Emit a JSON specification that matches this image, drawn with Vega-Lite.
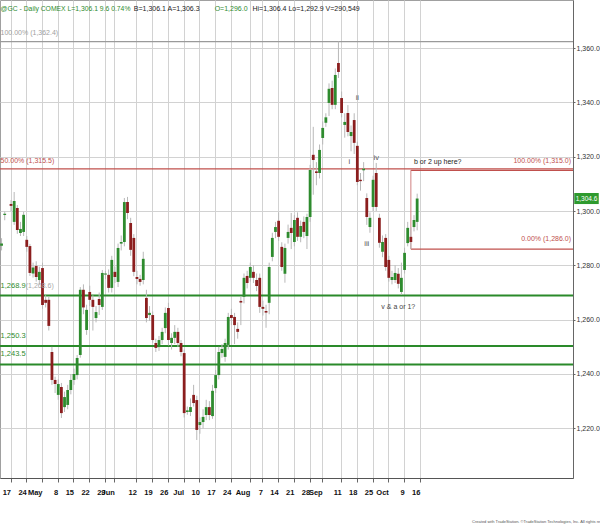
{
"$schema": "https://vega.github.io/schema/vega-lite/v6.json",
"width": 573, "height": 478,
"autosize": {"type": "none"},
"padding": {"left": 0, "top": 0, "right": 27, "bottom": 54},
"background": "white",
"config": {
  "font": "Liberation Sans, Arial, sans-serif",
  "view": {"stroke": "#a0a0a0", "strokeWidth": 1},
  "axis": {"domainColor": "#666666", "tickColor": "#666666", "gridColor": "#d2d2d2", "gridWidth": 1}
},
"title": {"text": "Created with TradeStation. ©TradeStation Technologies, Inc. All rights reserved.", "orient": "bottom", "anchor": "end", "fontSize": 4, "fontWeight": "normal", "color": "#555555", "offset": 24, "dx": 14},
"data": {"values": [
{"d":"2017-04-12","o":1287.2,"h":1290.0,"l":1285.5,"c":1288.0},
{"d":"2017-04-13","o":1298.5,"h":1299.8,"l":1296.6,"c":1299.0},
{"d":"2017-04-17","o":1302.6,"h":1304.0,"l":1300.0,"c":1301.9},
{"d":"2017-04-18","o":1296.0,"h":1307.0,"l":1294.9,"c":1303.7},
{"d":"2017-04-19","o":1301.1,"h":1302.2,"l":1291.6,"c":1293.0},
{"d":"2017-04-20","o":1291.9,"h":1296.0,"l":1290.8,"c":1293.4},
{"d":"2017-04-21","o":1292.3,"h":1299.7,"l":1290.8,"c":1298.6},
{"d":"2017-04-24","o":1289.4,"h":1290.8,"l":1285.0,"c":1286.8},
{"d":"2017-04-25","o":1287.1,"h":1287.9,"l":1276.1,"c":1277.2},
{"d":"2017-04-26","o":1277.0,"h":1281.0,"l":1275.5,"c":1279.2},
{"d":"2017-04-27","o":1279.8,"h":1281.5,"l":1274.0,"c":1275.7},
{"d":"2017-04-28","o":1274.6,"h":1279.5,"l":1273.0,"c":1277.6},
{"d":"2017-05-01","o":1279.0,"h":1281.0,"l":1264.0,"c":1265.4},
{"d":"2017-05-02","o":1267.3,"h":1269.0,"l":1264.5,"c":1266.2},
{"d":"2017-05-03","o":1267.3,"h":1268.5,"l":1256.0,"c":1257.7},
{"d":"2017-05-04","o":1248.1,"h":1250.0,"l":1236.0,"c":1237.8},
{"d":"2017-05-05","o":1237.8,"h":1239.0,"l":1233.0,"c":1236.3},
{"d":"2017-05-08","o":1232.3,"h":1238.0,"l":1230.5,"c":1236.3},
{"d":"2017-05-09","o":1235.2,"h":1236.7,"l":1223.8,"c":1225.6},
{"d":"2017-05-10","o":1227.8,"h":1233.5,"l":1226.0,"c":1231.5},
{"d":"2017-05-11","o":1228.6,"h":1236.0,"l":1227.0,"c":1234.1},
{"d":"2017-05-12","o":1234.1,"h":1240.0,"l":1232.5,"c":1237.8},
{"d":"2017-05-15","o":1237.8,"h":1242.0,"l":1236.0,"c":1240.0},
{"d":"2017-05-16","o":1239.6,"h":1247.0,"l":1238.0,"c":1245.9},
{"d":"2017-05-17","o":1247.0,"h":1272.0,"l":1246.0,"c":1271.0},
{"d":"2017-05-18","o":1271.0,"h":1273.0,"l":1262.0,"c":1264.5},
{"d":"2017-05-19","o":1256.2,"h":1265.5,"l":1254.4,"c":1263.6},
{"d":"2017-05-22","o":1270.2,"h":1272.5,"l":1265.0,"c":1267.3},
{"d":"2017-05-23","o":1267.3,"h":1269.0,"l":1256.0,"c":1264.7},
{"d":"2017-05-24","o":1260.6,"h":1265.0,"l":1259.0,"c":1262.8},
{"d":"2017-05-25","o":1267.6,"h":1270.0,"l":1261.7,"c":1265.4},
{"d":"2017-05-26","o":1264.7,"h":1278.3,"l":1263.6,"c":1277.2},
{"d":"2017-05-29","o":1276.6,"h":1278.0,"l":1275.0,"c":1277.0},
{"d":"2017-05-30","o":1276.5,"h":1278.5,"l":1270.0,"c":1271.7},
{"d":"2017-05-31","o":1271.7,"h":1283.5,"l":1270.0,"c":1282.0},
{"d":"2017-06-01","o":1277.6,"h":1279.5,"l":1273.5,"c":1275.7},
{"d":"2017-06-02","o":1273.9,"h":1288.0,"l":1272.0,"c":1286.4},
{"d":"2017-06-05","o":1288.0,"h":1291.0,"l":1285.5,"c":1288.6},
{"d":"2017-06-06","o":1288.6,"h":1304.8,"l":1287.0,"c":1303.3},
{"d":"2017-06-07","o":1303.3,"h":1305.2,"l":1297.0,"c":1299.3},
{"d":"2017-06-08","o":1295.6,"h":1297.5,"l":1283.5,"c":1285.7},
{"d":"2017-06-09","o":1290.1,"h":1291.5,"l":1276.0,"c":1277.6},
{"d":"2017-06-12","o":1275.7,"h":1278.0,"l":1273.0,"c":1275.0},
{"d":"2017-06-13","o":1275.0,"h":1276.5,"l":1272.5,"c":1273.9},
{"d":"2017-06-14","o":1274.6,"h":1285.0,"l":1273.0,"c":1282.4},
{"d":"2017-06-15","o":1268.0,"h":1271.0,"l":1259.0,"c":1260.6},
{"d":"2017-06-16","o":1261.7,"h":1265.0,"l":1259.5,"c":1262.5},
{"d":"2017-06-19","o":1261.7,"h":1263.0,"l":1251.5,"c":1252.5},
{"d":"2017-06-20","o":1251.4,"h":1253.0,"l":1248.1,"c":1249.6},
{"d":"2017-06-21","o":1249.9,"h":1254.0,"l":1248.5,"c":1252.5},
{"d":"2017-06-22","o":1252.5,"h":1257.0,"l":1251.0,"c":1255.5},
{"d":"2017-06-23","o":1256.9,"h":1264.5,"l":1255.0,"c":1262.5},
{"d":"2017-06-26","o":1264.3,"h":1266.2,"l":1250.5,"c":1252.5},
{"d":"2017-06-27","o":1251.4,"h":1255.0,"l":1249.0,"c":1253.3},
{"d":"2017-06-28","o":1253.3,"h":1258.0,"l":1251.0,"c":1255.5},
{"d":"2017-06-29","o":1255.5,"h":1257.0,"l":1250.0,"c":1251.4},
{"d":"2017-06-30","o":1251.4,"h":1252.5,"l":1246.5,"c":1248.1},
{"d":"2017-07-03","o":1247.7,"h":1249.0,"l":1224.0,"c":1225.6},
{"d":"2017-07-04","o":1226.0,"h":1228.0,"l":1225.0,"c":1226.6},
{"d":"2017-07-05","o":1226.0,"h":1231.0,"l":1224.5,"c":1227.8},
{"d":"2017-07-06","o":1232.3,"h":1236.0,"l":1228.0,"c":1229.3},
{"d":"2017-07-07","o":1230.4,"h":1232.0,"l":1215.7,"c":1219.4},
{"d":"2017-07-10","o":1221.2,"h":1224.0,"l":1218.0,"c":1222.3},
{"d":"2017-07-11","o":1222.3,"h":1227.0,"l":1220.0,"c":1224.2},
{"d":"2017-07-12","o":1224.9,"h":1230.5,"l":1223.0,"c":1227.8},
{"d":"2017-07-13","o":1227.8,"h":1230.0,"l":1223.0,"c":1224.9},
{"d":"2017-07-14","o":1224.5,"h":1236.0,"l":1223.5,"c":1233.8},
{"d":"2017-07-17","o":1234.8,"h":1241.5,"l":1233.0,"c":1239.6},
{"d":"2017-07-18","o":1239.6,"h":1250.0,"l":1238.0,"c":1248.1},
{"d":"2017-07-19","o":1247.7,"h":1251.0,"l":1246.0,"c":1249.2},
{"d":"2017-07-20","o":1246.3,"h":1253.0,"l":1244.5,"c":1251.4},
{"d":"2017-07-21","o":1250.7,"h":1262.5,"l":1249.0,"c":1261.0},
{"d":"2017-07-24","o":1261.7,"h":1264.0,"l":1258.0,"c":1260.6},
{"d":"2017-07-25","o":1261.0,"h":1262.5,"l":1251.0,"c":1258.0},
{"d":"2017-07-26","o":1256.6,"h":1259.0,"l":1253.0,"c":1255.5},
{"d":"2017-07-27","o":1266.9,"h":1268.5,"l":1258.0,"c":1266.3},
{"d":"2017-07-28","o":1268.4,"h":1277.0,"l":1266.0,"c":1275.4},
{"d":"2017-07-31","o":1276.1,"h":1278.0,"l":1271.5,"c":1273.5},
{"d":"2017-08-01","o":1275.4,"h":1281.0,"l":1274.0,"c":1279.4},
{"d":"2017-08-02","o":1277.6,"h":1280.0,"l":1273.5,"c":1275.4},
{"d":"2017-08-03","o":1274.6,"h":1277.0,"l":1270.5,"c":1272.4},
{"d":"2017-08-04","o":1275.4,"h":1277.0,"l":1262.5,"c":1264.7},
{"d":"2017-08-07","o":1264.7,"h":1267.0,"l":1261.5,"c":1264.0},
{"d":"2017-08-08","o":1263.2,"h":1265.5,"l":1257.0,"c":1262.6},
{"d":"2017-08-09","o":1266.2,"h":1281.0,"l":1262.0,"c":1279.4},
{"d":"2017-08-10","o":1283.1,"h":1292.0,"l":1281.5,"c":1290.1},
{"d":"2017-08-11","o":1292.3,"h":1296.0,"l":1290.0,"c":1294.1},
{"d":"2017-08-14","o":1296.4,"h":1299.5,"l":1289.0,"c":1290.5},
{"d":"2017-08-15","o":1286.8,"h":1288.5,"l":1278.0,"c":1279.4},
{"d":"2017-08-16","o":1276.9,"h":1288.0,"l":1273.6,"c":1286.4},
{"d":"2017-08-17","o":1290.1,"h":1295.0,"l":1288.0,"c":1292.3},
{"d":"2017-08-18","o":1293.8,"h":1299.3,"l":1286.0,"c":1291.9},
{"d":"2017-08-21","o":1288.6,"h":1298.5,"l":1287.0,"c":1296.7},
{"d":"2017-08-22","o":1297.5,"h":1299.5,"l":1289.0,"c":1290.5},
{"d":"2017-08-23","o":1290.5,"h":1296.5,"l":1288.5,"c":1294.5},
{"d":"2017-08-24","o":1296.0,"h":1298.0,"l":1290.0,"c":1292.3},
{"d":"2017-08-25","o":1290.8,"h":1299.0,"l":1286.0,"c":1297.8},
{"d":"2017-08-28","o":1297.8,"h":1317.0,"l":1296.0,"c":1315.1},
{"d":"2017-08-29","o":1320.7,"h":1331.0,"l":1306.0,"c":1318.8},
{"d":"2017-08-30","o":1314.6,"h":1318.0,"l":1309.5,"c":1314.0},
{"d":"2017-08-31","o":1314.0,"h":1324.5,"l":1312.0,"c":1322.5},
{"d":"2017-09-01","o":1326.9,"h":1333.0,"l":1324.5,"c":1330.6},
{"d":"2017-09-04","o":1332.5,"h":1336.0,"l":1331.0,"c":1334.5},
{"d":"2017-09-05","o":1339.8,"h":1347.0,"l":1335.0,"c":1345.0},
{"d":"2017-09-06","o":1345.3,"h":1348.0,"l":1337.5,"c":1339.1},
{"d":"2017-09-07","o":1339.1,"h":1352.5,"l":1337.5,"c":1350.1},
{"d":"2017-09-08","o":1354.5,"h":1362.4,"l":1349.0,"c":1351.2},
{"d":"2017-09-11","o":1341.6,"h":1344.0,"l":1334.5,"c":1336.1},
{"d":"2017-09-12","o":1331.7,"h":1336.0,"l":1327.0,"c":1332.8},
{"d":"2017-09-13","o":1336.1,"h":1339.0,"l":1327.5,"c":1329.1},
{"d":"2017-09-14","o":1327.6,"h":1331.5,"l":1322.0,"c":1329.1},
{"d":"2017-09-15","o":1333.5,"h":1336.0,"l":1321.0,"c":1325.1},
{"d":"2017-09-18","o":1324.0,"h":1325.5,"l":1309.5,"c":1310.7},
{"d":"2017-09-19","o":1311.5,"h":1314.0,"l":1307.5,"c":1311.0},
{"d":"2017-09-20","o":1315.0,"h":1318.0,"l":1311.0,"c":1315.6},
{"d":"2017-09-21","o":1304.8,"h":1306.5,"l":1294.9,"c":1297.8},
{"d":"2017-09-22","o":1294.1,"h":1299.5,"l":1292.0,"c":1297.5},
{"d":"2017-09-25","o":1301.5,"h":1313.0,"l":1300.0,"c":1311.5},
{"d":"2017-09-26","o":1314.0,"h":1317.7,"l":1300.0,"c":1301.5},
{"d":"2017-09-27","o":1297.5,"h":1299.0,"l":1286.5,"c":1288.3},
{"d":"2017-09-28","o":1285.0,"h":1291.0,"l":1283.0,"c":1288.6},
{"d":"2017-09-29","o":1290.1,"h":1291.5,"l":1278.0,"c":1279.4},
{"d":"2017-10-02","o":1282.0,"h":1283.5,"l":1274.0,"c":1275.4},
{"d":"2017-10-03","o":1274.6,"h":1278.0,"l":1273.0,"c":1275.7},
{"d":"2017-10-04","o":1274.6,"h":1280.0,"l":1273.5,"c":1277.2},
{"d":"2017-10-05","o":1276.9,"h":1279.0,"l":1271.5,"c":1273.2},
{"d":"2017-10-06","o":1270.2,"h":1281.0,"l":1269.1,"c":1275.4},
{"d":"2017-10-09","o":1278.3,"h":1286.5,"l":1277.0,"c":1284.6},
{"d":"2017-10-10","o":1288.2,"h":1296.0,"l":1287.0,"c":1293.8},
{"d":"2017-10-11","o":1290.5,"h":1294.0,"l":1286.0,"c":1288.6},
{"d":"2017-10-12","o":1294.1,"h":1298.5,"l":1292.5,"c":1296.7},
{"d":"2017-10-13","o":1296.0,"h":1306.4,"l":1292.9,"c":1304.6}
]},
"layer": [
{"data": {"values": [{}]}, "mark": {"type": "rule", "color": "#9a9a9a", "strokeWidth": 1.2},
 "encoding": {"y": {"datum": 1362.4, "type": "quantitative"}}},
{"data": {"values": [{}]}, "mark": {"type": "rule", "color": "#c0504d", "strokeWidth": 1.2},
 "encoding": {"y": {"datum": 1315.5, "type": "quantitative"}}},
{"data": {"values": [{}]}, "mark": {"type": "rule", "color": "#2a8a2a", "strokeWidth": 2},
 "encoding": {"y": {"datum": 1268.9, "type": "quantitative"}}},
{"data": {"values": [{}]}, "mark": {"type": "rule", "color": "#2a8a2a", "strokeWidth": 2},
 "encoding": {"y": {"datum": 1250.3, "type": "quantitative"}}},
{"data": {"values": [{}]}, "mark": {"type": "rule", "color": "#2a8a2a", "strokeWidth": 2},
 "encoding": {"y": {"datum": 1243.5, "type": "quantitative"}}},
{"data": {"values": [{}]}, "mark": {"type": "rule", "color": "#c0504d", "strokeWidth": 1.2},
 "encoding": {"x": {"datum": "2017-10-11", "type": "ordinal"}, "x2": {"value": "width"}, "y": {"datum": 1315.0, "type": "quantitative"}}},
{"data": {"values": [{}]}, "mark": {"type": "rule", "color": "#c0504d", "strokeWidth": 1.2},
 "encoding": {"x": {"datum": "2017-10-11", "type": "ordinal"}, "x2": {"value": "width"}, "y": {"datum": 1286.0, "type": "quantitative"}}},
{"data": {"values": [{}]}, "mark": {"type": "rule", "color": "#d08080", "strokeWidth": 1},
 "encoding": {"x": {"datum": "2017-10-11", "type": "ordinal"}, "y": {"datum": 1286.0, "type": "quantitative"}, "y2": {"datum": 1315.0}}},
{"mark": {"type": "rule", "color": "#b8b8b8", "strokeWidth": 1},
 "encoding": {
  "x": {"field": "d", "type": "ordinal",
   "scale": {"paddingInner": 0, "paddingOuter": 0, "domain": ["2017-04-12","2017-04-13","2017-04-14","2017-04-17","2017-04-18","2017-04-19","2017-04-20","2017-04-21","2017-04-24","2017-04-25","2017-04-26","2017-04-27","2017-04-28","2017-05-01","2017-05-02","2017-05-03","2017-05-04","2017-05-05","2017-05-08","2017-05-09","2017-05-10","2017-05-11","2017-05-12","2017-05-15","2017-05-16","2017-05-17","2017-05-18","2017-05-19","2017-05-22","2017-05-23","2017-05-24","2017-05-25","2017-05-26","2017-05-29","2017-05-30","2017-05-31","2017-06-01","2017-06-02","2017-06-05","2017-06-06","2017-06-07","2017-06-08","2017-06-09","2017-06-12","2017-06-13","2017-06-14","2017-06-15","2017-06-16","2017-06-19","2017-06-20","2017-06-21","2017-06-22","2017-06-23","2017-06-26","2017-06-27","2017-06-28","2017-06-29","2017-06-30","2017-07-03","2017-07-04","2017-07-05","2017-07-06","2017-07-07","2017-07-10","2017-07-11","2017-07-12","2017-07-13","2017-07-14","2017-07-17","2017-07-18","2017-07-19","2017-07-20","2017-07-21","2017-07-24","2017-07-25","2017-07-26","2017-07-27","2017-07-28","2017-07-31","2017-08-01","2017-08-02","2017-08-03","2017-08-04","2017-08-07","2017-08-08","2017-08-09","2017-08-10","2017-08-11","2017-08-14","2017-08-15","2017-08-16","2017-08-17","2017-08-18","2017-08-21","2017-08-22","2017-08-23","2017-08-24","2017-08-25","2017-08-28","2017-08-29","2017-08-30","2017-08-31","2017-09-01","2017-09-04","2017-09-05","2017-09-06","2017-09-07","2017-09-08","2017-09-11","2017-09-12","2017-09-13","2017-09-14","2017-09-15","2017-09-18","2017-09-19","2017-09-20","2017-09-21","2017-09-22","2017-09-25","2017-09-26","2017-09-27","2017-09-28","2017-09-29","2017-10-02","2017-10-03","2017-10-04","2017-10-05","2017-10-06","2017-10-09","2017-10-10","2017-10-11","2017-10-12","2017-10-13","2017-10-16","2017-10-17","2017-10-18","2017-10-19","2017-10-20","2017-10-23","2017-10-24","2017-10-25","2017-10-26","2017-10-27","2017-10-30","2017-10-31","2017-11-01","2017-11-02","2017-11-03","2017-11-06","2017-11-07","2017-11-08","2017-11-09","2017-11-10","2017-11-13","2017-11-14","2017-11-15","2017-11-16","2017-11-17","2017-11-20","2017-11-21","2017-11-22","2017-11-23","2017-11-24","2017-11-27","2017-11-28","2017-11-29","2017-11-30","2017-12-01","2017-12-04","2017-12-05","2017-12-06","2017-12-07","2017-12-08","2017-12-11","2017-12-12","2017-12-13","2017-12-14","2017-12-15","2017-12-18","2017-12-19","2017-12-20","2017-12-21"]},
   "axis": {"title": null, "values": ["2017-04-17","2017-04-24","2017-05-01","2017-05-08","2017-05-15","2017-05-22","2017-05-29","2017-06-01","2017-06-12","2017-06-19","2017-06-26","2017-07-03","2017-07-10","2017-07-17","2017-07-24","2017-08-01","2017-08-07","2017-08-14","2017-08-21","2017-08-28","2017-09-01","2017-09-11","2017-09-18","2017-09-25","2017-10-02","2017-10-09","2017-10-16"],
    "labelExpr": "datum.value == '2017-05-01' ? 'May' : datum.value == '2017-06-01' ? 'Jun' : datum.value == '2017-07-03' ? 'Jul' : datum.value == '2017-08-01' ? 'Aug' : datum.value == '2017-09-01' ? 'Sep' : datum.value == '2017-10-02' ? 'Oct' : '' + toNumber(substring(datum.value, 8, 10))",
    "bandPosition": 0.5, "grid": true, "labelAngle": 0, "labelOverlap": false, "labelFontSize": 7.5, "labelFontWeight": "bold", "labelColor": "#111111", "labelPadding": 10, "tickSize": 4, "domainColor": "#555555"}},
  "y": {"field": "l", "type": "quantitative",
   "scale": {"domain": [1201.7, 1377.7], "nice": false, "zero": false},
   "axis": {"title": null, "orient": "right", "values": [1220, 1240, 1260, 1280, 1300, 1320, 1340, 1360], "format": ",.1f", "grid": true, "labelFontSize": 7, "labelColor": "#333333", "tickSize": 2, "labelPadding": 1}},
  "y2": {"field": "h"}
 }},
{"mark": {"type": "bar", "size": 2.8},
 "encoding": {
  "x": {"field": "d", "type": "ordinal"},
  "y": {"field": "o", "type": "quantitative"},
  "y2": {"field": "c"},
  "color": {"condition": {"test": "datum.c >= datum.o", "value": "#2e8b2e"}, "value": "#8b1e1e"}
 }},
{"data": {"values": [{}]}, "mark": {"type": "text", "align": "left", "baseline": "alphabetic", "fontSize": 6.8, "color": "#2e8b2e", "dx": -1},
 "encoding": {"text": {"value": "@GC - Daily COMEX L=1,306.1 9.6 0.74%"}, "x": {"datum": "2017-04-12", "type": "ordinal"}, "y": {"datum": 1373.8, "type": "quantitative"}}},
{"data": {"values": [{}]}, "mark": {"type": "text", "align": "left", "baseline": "alphabetic", "fontSize": 7, "color": "#222222", "dx": 0},
 "encoding": {"text": {"value": "B=1,306.1 A=1,306.3"}, "x": {"datum": "2017-06-09", "type": "ordinal"}, "y": {"datum": 1373.8, "type": "quantitative"}}},
{"data": {"values": [{}]}, "mark": {"type": "text", "align": "left", "baseline": "alphabetic", "fontSize": 7, "color": "#2e8b2e", "dx": -1},
 "encoding": {"text": {"value": "O=1,296.0"}, "x": {"datum": "2017-07-17", "type": "ordinal"}, "y": {"datum": 1373.8, "type": "quantitative"}}},
{"data": {"values": [{}]}, "mark": {"type": "text", "align": "left", "baseline": "alphabetic", "fontSize": 7, "color": "#222222", "dx": -1},
 "encoding": {"text": {"value": "Hi=1,306.4 Lo=1,292.9 V=290,549"}, "x": {"datum": "2017-08-02", "type": "ordinal"}, "y": {"datum": 1373.8, "type": "quantitative"}}},
{"data": {"values": [{}]}, "mark": {"type": "text", "align": "left", "baseline": "alphabetic", "fontSize": 7, "color": "#a0a0a0", "dx": -1},
 "encoding": {"text": {"value": "100.00% (1,362.4)"}, "x": {"datum": "2017-04-12", "type": "ordinal"}, "y": {"datum": 1364.8, "type": "quantitative"}}},
{"data": {"values": [{}]}, "mark": {"type": "text", "align": "left", "baseline": "alphabetic", "fontSize": 7, "color": "#c0504d", "dx": -1},
 "encoding": {"text": {"value": "50.00% (1,315.5)"}, "x": {"datum": "2017-04-12", "type": "ordinal"}, "y": {"datum": 1317.7, "type": "quantitative"}}},
{"data": {"values": [{}]}, "mark": {"type": "text", "align": "left", "baseline": "alphabetic", "fontSize": 7, "color": "#a8a8a8", "dx": -1},
 "encoding": {"text": {"value": "(1,268.6)"}, "x": {"datum": "2017-04-24", "type": "ordinal"}, "y": {"datum": 1271.7, "type": "quantitative"}}},
{"data": {"values": [{}]}, "mark": {"type": "text", "align": "left", "baseline": "alphabetic", "fontSize": 7.5, "color": "#2e8b2e", "dx": -1},
 "encoding": {"text": {"value": "1,268.9"}, "x": {"datum": "2017-04-12", "type": "ordinal"}, "y": {"datum": 1271.7, "type": "quantitative"}}},
{"data": {"values": [{}]}, "mark": {"type": "text", "align": "left", "baseline": "alphabetic", "fontSize": 7.5, "color": "#2e8b2e", "dx": -1},
 "encoding": {"text": {"value": "1,250.3"}, "x": {"datum": "2017-04-12", "type": "ordinal"}, "y": {"datum": 1253.3, "type": "quantitative"}}},
{"data": {"values": [{}]}, "mark": {"type": "text", "align": "left", "baseline": "alphabetic", "fontSize": 7.5, "color": "#2e8b2e", "dx": -1},
 "encoding": {"text": {"value": "1,243.5"}, "x": {"datum": "2017-04-12", "type": "ordinal"}, "y": {"datum": 1246.7, "type": "quantitative"}}},
{"data": {"values": [{}]}, "mark": {"type": "text", "align": "right", "baseline": "alphabetic", "fontSize": 7, "color": "#c0504d", "dx": -2},
 "encoding": {"text": {"value": "100.00% (1,315.0)"}, "x": {"value": "width"}, "y": {"datum": 1317.6, "type": "quantitative"}}},
{"data": {"values": [{}]}, "mark": {"type": "text", "align": "right", "baseline": "alphabetic", "fontSize": 7, "color": "#c0504d", "dx": -2},
 "encoding": {"text": {"value": "0.00% (1,286.0)"}, "x": {"value": "width"}, "y": {"datum": 1289.0, "type": "quantitative"}}},
{"data": {"values": [{}]}, "mark": {"type": "text", "align": "left", "baseline": "alphabetic", "fontSize": 7, "color": "#222222", "dx": 0},
 "encoding": {"text": {"value": "b or 2 up here?"}, "x": {"datum": "2017-10-12", "type": "ordinal"}, "y": {"datum": 1317.3, "type": "quantitative"}}},
{"data": {"values": [{}]}, "mark": {"type": "text", "align": "center", "baseline": "alphabetic", "fontSize": 7.5, "color": "#555555"},
 "encoding": {"text": {"value": "ii"}, "x": {"datum": "2017-09-18", "type": "ordinal"}, "y": {"datum": 1340.9, "type": "quantitative"}}},
{"data": {"values": [{}]}, "mark": {"type": "text", "align": "center", "baseline": "alphabetic", "fontSize": 7.5, "color": "#555555", "dx": 1.5},
 "encoding": {"text": {"value": "i"}, "x": {"datum": "2017-09-13", "type": "ordinal"}, "y": {"datum": 1317.3, "type": "quantitative"}}},
{"data": {"values": [{}]}, "mark": {"type": "text", "align": "center", "baseline": "alphabetic", "fontSize": 7.5, "color": "#555555"},
 "encoding": {"text": {"value": "iv"}, "x": {"datum": "2017-09-26", "type": "ordinal"}, "y": {"datum": 1318.8, "type": "quantitative"}}},
{"data": {"values": [{}]}, "mark": {"type": "text", "align": "center", "baseline": "alphabetic", "fontSize": 7.5, "color": "#555555"},
 "encoding": {"text": {"value": "iii"}, "x": {"datum": "2017-09-21", "type": "ordinal"}, "y": {"datum": 1287.2, "type": "quantitative"}}},
{"data": {"values": [{}]}, "mark": {"type": "text", "align": "center", "baseline": "alphabetic", "fontSize": 7, "color": "#444444"},
 "encoding": {"text": {"value": "v & a or 1?"}, "x": {"datum": "2017-10-05", "type": "ordinal"}, "y": {"datum": 1264.0, "type": "quantitative"}}},
{"data": {"values": [{}]}, "mark": {"type": "point", "shape": "M-1,-0.45 L1,-0.45 L1,0.45 L-1,0.45 Z", "size": 600, "filled": true, "fill": "#2e9a2e", "opacity": 1, "strokeWidth": 0, "xOffset": 13.5},
 "encoding": {"x": {"value": "width"}, "y": {"datum": 1304.6, "type": "quantitative"}}},
{"data": {"values": [{}]}, "mark": {"type": "text", "align": "center", "baseline": "middle", "fontSize": 6.5, "color": "white", "dx": 13.5},
 "encoding": {"text": {"value": "1,304.6"}, "x": {"value": "width"}, "y": {"datum": 1304.6, "type": "quantitative"}}}
]
}
